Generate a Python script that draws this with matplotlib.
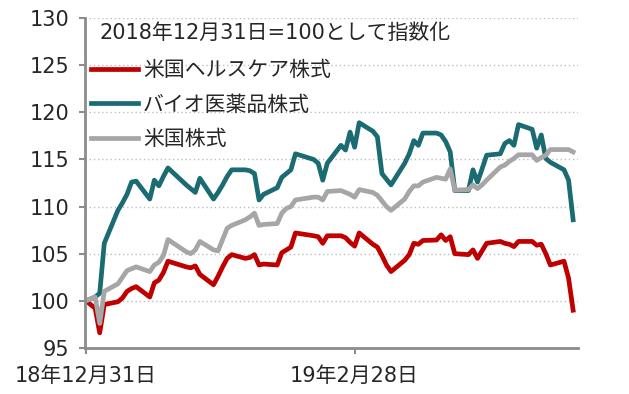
import numpy as np
import pandas as pd
import matplotlib
matplotlib.use("Agg")
import matplotlib.pyplot as plt

# digits from DejaVu (wide, like the reference), kana/kanji from Noto CJK
plt.rcParams['font.family'] = ['DejaVu Sans', 'Noto Sans CJK JP']

# trading days, 2018-12-31 .. 2019-04-17 (US holidays removed)
dates = pd.bdate_range("2018-12-31", "2019-04-17")
dates = dates.drop(pd.to_datetime(["2019-01-01", "2019-01-21", "2019-02-18"]))

healthcare = [100.0, 99.2, 96.6, 99.6, 99.9, 100.3, 101.0, 101.3, 101.5, 100.4,
              101.9, 102.2, 103.0, 104.2, 103.6, 103.5, 103.7, 102.8, 101.7, 102.6,
              103.6, 104.5, 104.9, 104.5, 104.6, 104.9, 103.8, 103.9, 103.8, 105.1,
              105.4, 105.7, 107.2, 106.9, 106.8, 106.1, 106.9, 106.9, 106.7, 106.2,
              105.8, 107.2, 106.0, 105.7, 104.8, 103.8, 103.1, 104.3, 104.9, 106.1,
              106.0, 106.4, 106.45, 107.0, 106.4, 106.8, 105.0, 104.9, 105.4, 104.5,
              105.3, 106.1, 106.3, 106.1, 106.0, 105.75, 106.3, 106.3, 105.9, 106.0,
              105.0, 103.8, 104.2, 102.4, 99.0]

biopharma = [100.0, 100.4, 100.8, 106.1, 109.6, 110.4, 111.3, 112.6, 112.7, 110.8,
             112.8, 112.2, 113.2, 114.1, 112.3, 111.9, 111.5, 113.0, 110.8, 111.5,
             112.3, 113.2, 113.9, 113.9, 113.8, 113.5, 110.7, 111.3, 112.0, 113.1,
             113.5, 113.9, 115.6, 115.0, 114.6, 112.8, 114.6, 116.5, 116.0, 117.9,
             116.3, 118.9, 118.0, 117.4, 113.5, 112.9, 112.3, 114.6, 115.6, 117.0,
             116.5, 117.8, 117.8, 117.6, 116.9, 115.8, 111.7, 111.7, 113.9, 112.6,
             114.0, 115.45, 115.6, 116.7, 117.0, 116.5, 118.7, 118.2, 116.2, 117.6,
             115.1, 114.7, 113.9, 112.8, 108.6]

us_stocks = [100.0, 100.4, 97.6, 101.0, 101.8, 102.5, 103.2, 103.4, 103.6, 103.1,
             103.8, 104.1, 104.8, 106.5, 105.2, 105.0, 105.4, 106.3, 105.4, 105.3,
             106.5, 107.7, 108.0, 108.6, 108.9, 109.3, 108.0, 108.1, 108.2, 109.3,
             109.8, 110.0, 110.7, 111.0, 111.0, 110.7, 111.6, 111.7, 111.5, 111.3,
             111.0, 111.8, 111.5, 111.2, 110.6, 110.0, 109.6, 110.8, 111.6, 112.2,
             112.2, 112.6, 113.1, 113.0, 112.9, 114.0, 111.75, 111.8, 112.3, 111.9,
             112.3, 112.8, 114.2, 114.4, 114.8, 115.1, 115.5, 115.5, 114.9, 115.2,
             115.45, 116.05, 116.05, 116.05, 115.8]

labels = ["米国ヘルスケア株式", "バイオ医薬品株式", "米国株式"]
colors = ["#C00000", "#1A6B72", "#A6A6A6"]
xtick_dates = pd.to_datetime(["2018-12-31", "2019-02-28"])
xtick_labels = ["18年12月31日", "19年2月28日"]
yticks = [95, 100, 105, 110, 115, 120, 125, 130]

fig = plt.figure(figsize=(6.29, 3.94), dpi=100)
ax = fig.add_axes([0.135, 0.117, 0.784, 0.837])

for vals, lab, col in zip([healthcare, biopharma, us_stocks], labels, colors):
    ax.plot(dates, vals, color=col, lw=3.4, label=lab)

ax.set_ylim(95, 130)
ax.set_yticks(yticks)
ax.set_xlim(pd.Timestamp("2018-12-31") - pd.Timedelta(hours=6),
            pd.Timestamp("2019-04-18") + pd.Timedelta(hours=2))
ax.set_xticks(xtick_dates)
ax.set_xticklabels(xtick_labels)

ax.grid(axis='y', linestyle=(0, (1, 2)), color='#BFBFBF', lw=1)
ax.set_axisbelow(True)
for s in ['top', 'right']:
    ax.spines[s].set_visible(False)
for s in ['left', 'bottom']:
    ax.spines[s].set_color('#8C8C8C')
    ax.spines[s].set_linewidth(2)
ax.tick_params(axis='both', colors='#8C8C8C', length=4, width=1.5, labelsize=15,
               labelcolor='#262626')
ax.tick_params(axis='y', pad=7)
ax.tick_params(axis='x', pad=9)

ax.text(0.03, 0.955, "2018年12月31日=100として指数化", transform=ax.transAxes,
        fontsize=15, va='center', ha='left', color='#262626')

ax.legend(loc='upper left', bbox_to_anchor=(0.012, 0.873), frameon=False,
          fontsize=15, handlelength=2.26, handletextpad=0.25, labelspacing=0.7,
          borderpad=0, borderaxespad=0, labelcolor='#262626')

fig.savefig("out.png", dpi=100)
